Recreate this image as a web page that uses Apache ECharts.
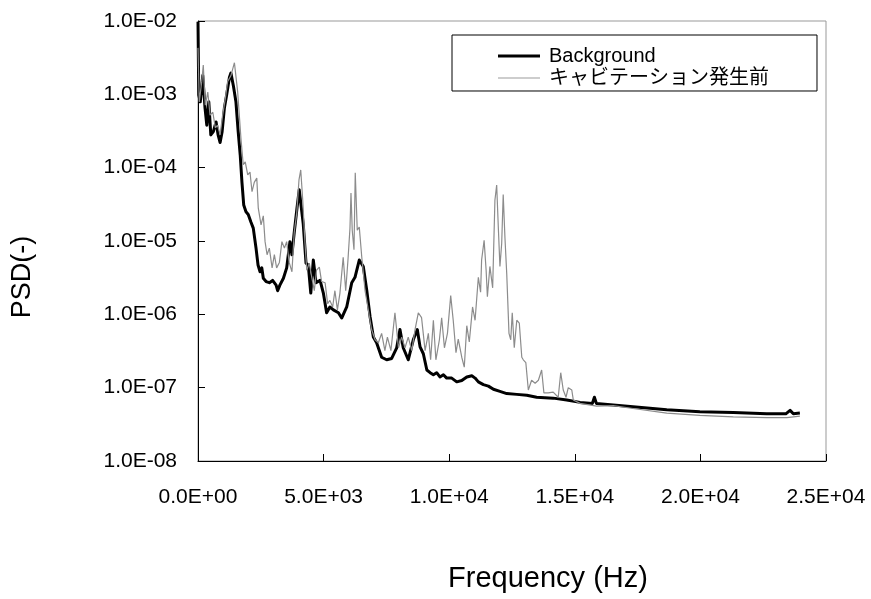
<!DOCTYPE html>
<html>
<head>
<meta charset="utf-8">
<script src="https://cdn.jsdelivr.net/npm/echarts@6/dist/echarts.min.js"></script>
<style>
  html, body { margin: 0; padding: 0; background: #fff; }
  #chart { width: 871px; height: 599px; }
</style>
</head>
<body>
<div id="chart"></div>
<script>
// ---- data ----
const seriesNames = ['Background', 'キャビテーション発生前'];

const freqBg = [
  0,30,90,190,280,350,430,510,610,720,
  800,880,960,1050,1140,1250,1310,1410,1510,1600,
  1680,1750,1820,1910,2000,2110,2200,2310,2390,2470,
  2540,2600,2710,2840,2970,3110,3170,3260,3400,3530,
  3660,3740,3830,3940,4030,4190,4300,4390,4490,4590,
  4700,4860,4990,5120,5250,5390,5590,5720,5920,6120,
  6250,6420,6580,6720,6850,6980,7110,7310,7510,7710,
  7910,8040,8170,8370,8570,8730,8840,8970,9110,9240,
  9370,9500,9630,9770,9900,10100,10300,10500,10700,10900,
  11030,11160,11360,11560,11760,12020,12290,12690,13090,13480,
  14140,14680,15210,15700,15780,15860,16530,17320,18660,19980,
  21310,22640,23400,23570,23700,23960];
const psdBg = [
  9.8e-3,9.8e-4,7.9e-4,1.8e-3,6.5e-4,3.8e-4,7.9e-4,2.8e-4,3.1e-4,4.2e-4,
  2.8e-4,2.2e-4,3.1e-4,6.5e-4,9.8e-4,1.7e-3,1.95e-3,1.3e-3,7.9e-4,3.1e-4,
  1.5e-4,6.3e-5,3.1e-5,2.5e-5,2.3e-5,1.8e-5,1.5e-5,8.0e-6,4.7e-6,3.8e-6,
  4.3e-6,3.1e-6,2.8e-6,2.7e-6,2.9e-6,2.5e-6,2.1e-6,2.5e-6,3.1e-6,4.3e-6,
  9.8e-6,6.5e-6,1.3e-5,2.8e-5,5.0e-5,1.7e-5,5.0e-6,4.7e-6,1.95e-6,5.5e-6,
  2.7e-6,2.9e-6,1.95e-6,1.05e-6,1.26e-6,1.15e-6,1.05e-6,8.9e-7,1.26e-6,2.7e-6,
  3.2e-6,5.5e-6,4.5e-6,2.1e-6,9.3e-7,4.9e-7,4.1e-7,2.6e-7,2.4e-7,2.5e-7,
  3.5e-7,6.2e-7,3.5e-7,2.4e-7,4.5e-7,6.2e-7,3.6e-7,2.9e-7,1.74e-7,1.6e-7,
  1.5e-7,1.6e-7,1.4e-7,1.5e-7,1.35e-7,1.35e-7,1.2e-7,1.25e-7,1.4e-7,1.45e-7,
  1.35e-7,1.2e-7,1.1e-7,1.05e-7,9.5e-8,8.9e-8,8.3e-8,8.1e-8,7.9e-8,7.4e-8,
  7.2e-8,6.8e-8,6.3e-8,6.1e-8,7.4e-8,6.1e-8,5.8e-8,5.5e-8,5.0e-8,4.7e-8,
  4.6e-8,4.4e-8,4.4e-8,4.9e-8,4.4e-8,4.5e-8];

const freqPre = [
  0,50,150,210,290,390,480,590,690,780,
  880,980,1090,1180,1310,1450,1580,1710,1800,1880,
  1980,2070,2150,2240,2340,2400,2510,2600,2670,2750,
  2840,2950,3040,3130,3240,3340,3440,3530,3630,3740,
  3830,3930,4020,4090,4170,4260,4330,4430,4530,4630,
  4720,4830,4920,5060,5160,5250,5360,5450,5550,5650,
  5780,5880,5970,6050,6090,6140,6210,6260,6340,6420,
  6520,6650,6780,6910,7050,7180,7310,7440,7540,7680,
  7840,7980,8110,8240,8370,8510,8640,8770,8900,9040,
  9170,9260,9370,9470,9610,9700,9810,9930,10060,10160,
  10270,10360,10500,10600,10700,10800,10930,11030,11160,11250,
  11290,11390,11470,11520,11620,11730,11820,11890,11960,12020,
  12090,12150,12220,12290,12380,12450,12510,12590,12690,12790,
  12890,12950,13050,13150,13280,13420,13550,13680,13770,13940,
  14140,14340,14440,14540,14650,14740,14880,14940,15210,15870,
  16530,17320,18660,19980,21310,22640,23440,23960];
const psdPre = [
  4.3e-3,7.9e-4,1.5e-3,2.5e-3,7.1e-4,1.07e-3,5.2e-4,5.7e-4,3.5e-4,3.8e-4,
  2.8e-4,5.2e-4,8.9e-4,1.5e-3,1.8e-3,2.7e-3,1.07e-3,2.5e-4,1.1e-4,1.2e-4,
  8.0e-5,8.7e-5,4.7e-5,6.3e-5,7.2e-5,2.8e-5,1.66e-5,2.2e-5,9.8e-6,6.5e-6,
  8.0e-6,4.3e-6,6.5e-6,4.3e-6,5.1e-6,9.8e-6,8.0e-6,9.8e-6,5.1e-6,3.8e-6,
  1.3e-5,2.4e-5,6.8e-5,9.3e-5,3.6e-5,9.3e-6,4.0e-6,5.0e-6,3.2e-6,2.1e-6,
  4.0e-6,4.4e-6,2.8e-6,2.7e-6,1.4e-6,1.55e-6,1.26e-6,2.1e-6,1.15e-6,1.95e-6,
  6.0e-6,2.1e-6,5.5e-6,1.5e-5,4.5e-5,1.4e-5,7.6e-6,8.5e-5,1.4e-5,1.55e-5,
  6.0e-6,2.1e-6,1.15e-6,6.2e-7,4.5e-7,4.1e-7,5.5e-7,3.2e-7,4.9e-7,3.2e-7,
  1.05e-6,3.5e-7,4.9e-7,3.5e-7,4.9e-7,3.2e-7,6.2e-7,1.05e-6,9.0e-7,3.2e-7,
  5.5e-7,2.4e-7,8.3e-7,2.4e-7,4.5e-7,9.0e-7,3.5e-7,5.5e-7,1.8e-6,8.3e-7,
  3.0e-7,4.6e-7,2.6e-7,1.9e-7,7.0e-7,4.2e-7,1.26e-6,8.3e-7,3.2e-6,2.0e-6,
  5.5e-6,1.02e-5,4.0e-6,1.74e-6,4.5e-6,2.3e-6,3.6e-5,5.8e-5,1.4e-5,4.5e-6,
  9.3e-6,4.3e-5,1.1e-5,3.6e-6,5.5e-7,4.5e-7,1.05e-6,3.5e-7,8.3e-7,7.6e-7,
  2.6e-7,2.4e-7,2.2e-7,9.3e-8,1.26e-7,1.15e-7,1.26e-7,1.74e-7,8.5e-8,8.5e-8,
  8.7e-8,7.4e-8,1.6e-7,9.3e-8,7.4e-8,1.0e-7,9.3e-8,6.8e-8,6.1e-8,5.6e-8,
  5.7e-8,5.2e-8,4.5e-8,4.2e-8,4.0e-8,3.9e-8,3.9e-8,4.1e-8];

const xTickValues = [0, 5000, 10000, 15000, 20000, 25000];
const yTickValues = [1e-8, 1e-7, 1e-6, 1e-5, 1e-4, 1e-3, 1e-2];
const xTitle = 'Frequency (Hz)';
const yTitle = 'PSD(-)';

// ---- helpers ----
function zip(xs, ys) {
  const n = Math.min(xs.length, ys.length);
  const out = [];
  for (let i = 0; i < n; i++) out.push([xs[i], ys[i]]);
  return out;
}
function sci(v) {
  const parts = Number(v).toExponential(1).split('e');
  const e = parts[1];
  const sign = e[0] === '-' ? '-' : '+';
  const digits = e.replace(/[+-]/, '').padStart(2, '0');
  return parts[0] + 'E' + sign + digits;
}

const latin = "'Liberation Sans', Arial, sans-serif";
const mixed = "'Liberation Sans', 'Noto Sans CJK JP', sans-serif";

const chart = echarts.init(document.getElementById('chart'), null, { renderer: 'canvas' });
chart.setOption({
  animation: false,
  backgroundColor: '#ffffff',
  grid: {
    left: 198, top: 21, width: 628, height: 440,
    show: true, borderColor: '#999999', borderWidth: 1, backgroundColor: 'transparent'
  },
  legend: {
    left: 452, top: 35,
    orient: 'vertical',
    padding: [11, 48, 3, 46],
    itemGap: 2,
    itemWidth: 42, itemHeight: 20,
    borderColor: '#000', borderWidth: 1,
    backgroundColor: '#fff',
    textStyle: { fontFamily: mixed, fontSize: 20, color: '#000', padding: [0, 0, 0, 4] },
    data: [
      { name: seriesNames[0], icon: 'path://M0,0 L42,0 L42,3 L0,3 Z', itemStyle: { color: '#000' } },
      { name: seriesNames[1], icon: 'path://M0,0 L42,0 L42,1.5 L0,1.5 Z', itemStyle: { color: '#bdbdbd' } }
    ]
  },
  xAxis: {
    type: 'value', min: xTickValues[0], max: xTickValues[xTickValues.length - 1], interval: 5000,
    axisLine: { show: true, onZero: false, lineStyle: { color: '#000', width: 1 } },
    axisTick: { show: true, inside: true, length: 7, lineStyle: { color: '#000' } },
    splitLine: { show: false },
    axisLabel: { formatter: sci, fontFamily: latin, fontSize: 21, color: '#000', margin: 26 }
  },
  yAxis: {
    type: 'log', logBase: 10, min: yTickValues[0], max: yTickValues[yTickValues.length - 1],
    axisLine: { show: true, lineStyle: { color: '#000', width: 1 } },
    axisTick: { show: true, inside: true, length: 7, lineStyle: { color: '#000' } },
    splitLine: { show: false },
    minorTick: { show: false },
    axisLabel: { formatter: sci, fontFamily: latin, fontSize: 21, color: '#000', margin: 21 }
  },
  graphic: [
    { type: 'text', x: 548, y: 579, style: { text: xTitle, font: "29px 'Liberation Sans', Arial, sans-serif", fill: '#000', align: 'center', verticalAlign: 'middle' } },
    { type: 'text', x: 23, y: 277, rotation: Math.PI / 2, style: { text: yTitle, font: "27px 'Liberation Sans', Arial, sans-serif", fill: '#000', align: 'center', verticalAlign: 'middle' } }
  ],
  series: [
    {
      name: seriesNames[0], type: 'line', data: zip(freqBg, psdBg),
      symbol: 'none', lineStyle: { color: '#000', width: 3, join: 'round' }, itemStyle: { color: '#000' },
      z: 2
    },
    {
      name: seriesNames[1], type: 'line', data: zip(freqPre, psdPre),
      symbol: 'none', lineStyle: { color: '#8c8c8c', width: 1.2 }, itemStyle: { color: '#8c8c8c' },
      z: 3
    }
  ]
});
</script>
</body>
</html>
